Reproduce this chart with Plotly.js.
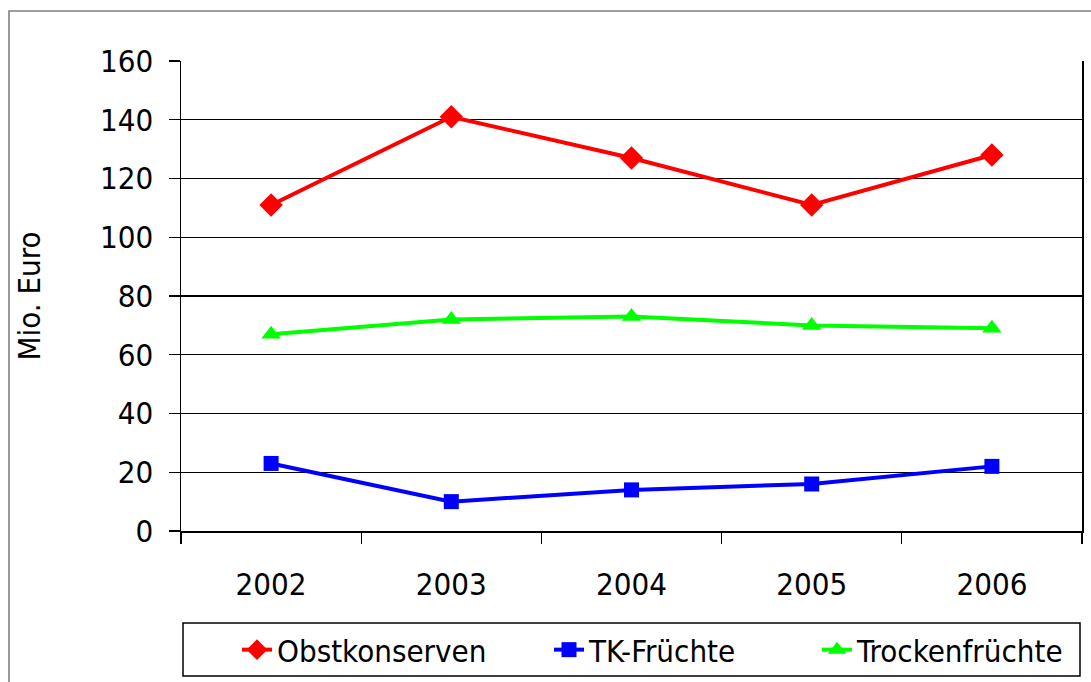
<!DOCTYPE html>
<html>
<head>
<meta charset="utf-8">
<script src="https://cdn.plot.ly/plotly-3.0.1.min.js"></script>
<style>
  html, body { margin: 0; padding: 0; background: #fff; }
  #chart { width: 1091px; height: 682px; }
</style>
</head>
<body>
<div id="chart"></div>
<script>
const years = ["2002", "2003", "2004", "2005", "2006"];
const obstkonserven = [111, 141, 127, 111, 128];
const tkFruechte = [23, 10, 14, 16, 22];
const trockenfruechte = [67, 72, 73, 70, 69];
const seriesNames = ["Obstkonserven", "TK-Früchte", "Trockenfrüchte"];
const yTicks = [0, 20, 40, 60, 80, 100, 120, 140, 160];

const FONT = '"Liberation Sans Narrow", "Arial Narrow", "DejaVu Sans Condensed", sans-serif';
const FS = 31;

const traces = [
  {
    x: years, y: obstkonserven, name: seriesNames[0], type: 'scatter', mode: 'lines+markers',
    line: {color: '#FF0000', width: 4},
    marker: {symbol: 'diamond', size: 18, color: '#FF0000'},
    legend: 'legend'
  },
  {
    x: years, y: tkFruechte, name: seriesNames[1], type: 'scatter', mode: 'lines+markers',
    line: {color: '#0000FF', width: 4},
    marker: {symbol: 'square', size: 15, color: '#0000FF'},
    legend: 'legend2'
  },
  {
    x: years, y: trockenfruechte, name: seriesNames[2], type: 'scatter', mode: 'lines+markers',
    line: {color: '#00FF00', width: 4},
    marker: {symbol: 'triangle-up', size: 17, color: '#00FF00'},
    legend: 'legend3'
  }
];

function legendAt(px) {
  return {
    xref: 'container', yref: 'container',
    x: px / 1091, y: 1 - 650 / 682,
    xanchor: 'left', yanchor: 'middle',
    orientation: 'h',
    bgcolor: 'rgba(0,0,0,0)', borderwidth: 0,
    font: {family: FONT, size: FS, color: '#000'}
  };
}

const layout = {
  width: 1091, height: 682,
  margin: {l: 181, r: 9, t: 61, b: 151},
  paper_bgcolor: '#fff', plot_bgcolor: '#fff',
  font: {family: FONT, size: FS, color: '#000'},
  showlegend: true,
  xaxis: {
    type: 'category',
    range: [-0.5, 4.5],
    tickson: 'boundaries',
    ticks: 'outside', ticklen: 11, tickwidth: 1.3, tickcolor: '#000',
    showline: true, linecolor: '#000', linewidth: 1.5,
    showgrid: false, zeroline: false,
    ticklabelstandoff: 25,
    tickfont: {family: FONT, size: FS, color: '#000'}
  },
  yaxis: {
    range: [0, 160],
    tickmode: 'array', tickvals: yTicks, ticktext: yTicks.map(String),
    ticks: 'outside', ticklen: 11, tickwidth: 1.3, tickcolor: '#000',
    showline: true, linecolor: '#000', linewidth: 1.5, mirror: true,
    showgrid: true, gridcolor: '#000', gridwidth: 1.2,
    zeroline: false,
    ticklabelstandoff: 9,
    tickfont: {family: FONT, size: FS, color: '#000'},
    title: {text: 'Mio. Euro', font: {family: FONT, size: FS, color: '#000'}, standoff: 50}
  },
  legend: legendAt(237),
  legend2: legendAt(549),
  legend3: legendAt(817),
  shapes: [
    // outer chart frame
    {type: 'rect', xref: 'paper', yref: 'paper',
     x0: (9 - 181) / 901, x1: (1300 - 181) / 901,
     y0: (531 - 800) / 470, y1: (531 - 11) / 470,
     line: {color: '#808080', width: 1.6}, fillcolor: 'rgba(0,0,0,0)', layer: 'below'},
    // legend box
    {type: 'rect', xref: 'paper', yref: 'paper',
     x0: (183 - 181) / 901, x1: (1080 - 181) / 901,
     y0: (531 - 676) / 470, y1: (531 - 623) / 470,
     line: {color: '#000', width: 1.5}, fillcolor: 'rgba(0,0,0,0)', layer: 'below'}
  ]
};

Plotly.newPlot('chart', traces, layout, {displayModeBar: false, staticPlot: true});
</script>
</body>
</html>
